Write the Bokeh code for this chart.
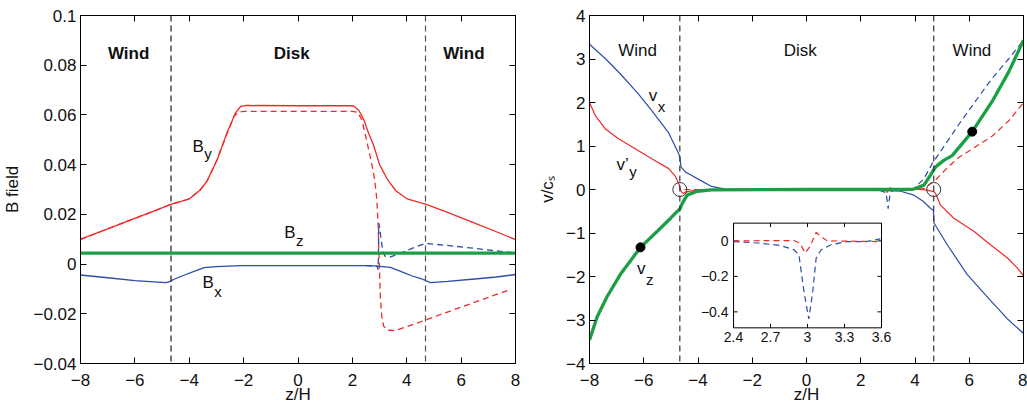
from bokeh.plotting import figure
from bokeh.layouts import row
from bokeh.models import Range1d, LinearAxis, FixedTicker, Span, CustomJSTickFormatter
from bokeh.core.properties import value
from bokeh.embed import file_html
from bokeh.resources import INLINE

FONT = "Liberation Sans"
RED = "#ee2a2a"
BLUE = "#2c4ca8"
GREEN = "#1a9f45"

# ---------------- shared ----------------
x_ticks = [-8, -6, -4, -2, 0, 2, 4, 6, 8]
x_labels = ["\u22128", "\u22126", "\u22124", "\u22122", "0", "2", "4", "6", "8"]
boundaries = [-4.67, 4.69]
region_names = ["Wind", "Disk", "Wind"]
region_z = [-6.23, -0.23, 6.10]

# ---------------- left panel: B field ----------------
b_yticks = [-0.04, -0.02, 0, 0.02, 0.04, 0.06, 0.08, 0.1]
b_ylabels = ["\u22120.04", "\u22120.02", "0", "0.02", "0.04", "0.06", "0.08", "0.1"]

z_by = [-8.0, -7.0, -6.0, -5.0, -4.69, -4.3, -4.0, -3.6, -3.34, -2.97, -2.61, -2.3, -2.11, -1.9,
        0.0, 1.9, 2.05, 2.24, 2.42, 2.6, 2.79, 3.0, 3.28, 3.6, 4.02, 4.4, 4.69, 5.5, 6.5, 7.3, 8.0]
by_solid = [0.0100, 0.0142, 0.0184, 0.0226, 0.0240, 0.0252, 0.0262, 0.0298, 0.0335, 0.0421, 0.0528,
            0.0608, 0.0634, 0.0638, 0.0637, 0.0637, 0.0636, 0.0618, 0.0581, 0.0525, 0.0475, 0.0400,
            0.0342, 0.0295, 0.0262, 0.0250, 0.0241, 0.0208, 0.0165, 0.0130, 0.0098]

z_by_d = [-8.0, -7.0, -6.0, -5.0, -4.69, -4.3, -4.0, -3.6, -3.34, -2.97, -2.61, -2.35, -2.2, -2.0,
          0.0, 2.0, 2.2, 2.35, 2.54, 2.7, 2.82, 2.9, 2.95, 2.99, 3.03, 3.08, 3.15, 3.3, 3.55, 4.0,
          4.69, 6.0, 7.0, 7.78]
by_dash = [0.0098, 0.0142, 0.0184, 0.0226, 0.0239, 0.0252, 0.0262, 0.0298, 0.0335, 0.0421, 0.0525,
           0.0595, 0.0610, 0.0614, 0.0614, 0.0614, 0.0610, 0.0580, 0.0490, 0.0410, 0.0340, 0.0260,
           0.0150, 0.0000, -0.0137, -0.0210, -0.0250, -0.0265, -0.0268, -0.0252, -0.0225, -0.0173,
           -0.0134, -0.0104]

z_bx = [-8.0, -7.0, -6.0, -5.3, -4.85, -4.69, -4.6, -4.2, -3.8, -3.45, -3.0, -2.1, 0.0, 2.5, 2.8,
        3.1, 3.4, 3.8, 4.2, 4.55, 4.69, 4.87, 5.5, 6.5, 7.3, 8.0]
bx_solid = [-0.0044, -0.0055, -0.0067, -0.0072, -0.0075, -0.0070, -0.0063, -0.0045, -0.0028, -0.0014,
            -0.0010, -0.0006, -0.0006, -0.0006, -0.0007, -0.0010, -0.0013, -0.0030, -0.0048, -0.0060,
            -0.0066, -0.0075, -0.0070, -0.0060, -0.0052, -0.0042]

z_bx_d = [2.5, 2.9, 2.95, 2.97, 3.0, 3.05, 3.12, 3.2, 3.35, 3.8, 4.3, 4.69, 5.5, 6.5, 7.3, 8.0]
bx_dash = [-0.0006, -0.0008, -0.0022, 0.0165, 0.0150, 0.0105, 0.0050, 0.0032, 0.0027, 0.0045, 0.0068,
           0.0083, 0.0075, 0.0063, 0.0053, 0.0045]

z_bz = [-8.0, 8.0]
bz = [0.0044, 0.0044]

# ---------------- right panel: velocities ----------------
v_yticks = [-4, -3, -2, -1, 0, 1, 2, 3, 4]
v_ylabels = ["\u22124", "\u22123", "\u22122", "\u22121", "0", "1", "2", "3", "4"]

z_vx = [-8.0, -7.4, -6.85, -6.2, -5.69, -5.08, -4.71, -4.66, -4.63, -4.46, -4.28, -3.91, -3.5, -3.0,
        0.0, 2.73, 3.47, 3.96, 4.3, 4.57, 4.68, 4.70, 5.19, 5.92, 6.78, 7.4, 8.0]
vx_solid = [3.34, 3.00, 2.65, 2.20, 1.80, 1.30, 0.82, 0.72, 0.52, 0.40, 0.34, 0.21, 0.07, 0.01, 0.0,
            -0.015, -0.04, -0.13, -0.27, -0.43, -0.48, -0.77, -1.27, -1.95, -2.55, -2.97, -3.31]

z_vx_d = [2.7, 2.93, 2.98, 3.01, 3.04, 3.08, 3.15, 3.3, 3.6, 3.96, 4.33, 4.63, 5.0, 5.62, 6.23, 6.85,
          7.45, 8.0]
vx_dash = [-0.02, -0.07, -0.28, -0.44, -0.30, -0.09, -0.03, -0.01, 0.0, 0.02, 0.25, 0.59, 0.93, 1.50,
           2.03, 2.56, 3.00, 3.43]

z_vy = [-8.0, -7.78, -7.41, -6.92, -6.3, -5.69, -5.08, -4.83, -4.70, -4.62, -4.55, -4.46, -4.16,
        -3.8, 0.0, 4.2, 4.45, 4.69, 4.76, 4.94, 5.43, 6.17, 6.78, 7.40, 7.77, 8.0]
vy_solid = [2.0, 1.69, 1.39, 1.16, 0.93, 0.70, 0.48, 0.30, 0.12, -0.05, -0.09, -0.06, -0.02, 0.0, 0.0,
            0.0, -0.015, -0.05, -0.09, -0.36, -0.66, -0.96, -1.27, -1.57, -1.80, -1.98]

z_vy_d = [-4.5, 2.7, 2.94, 2.98, 3.02, 3.07, 3.11, 3.16, 3.5, 4.0, 4.33, 4.76, 5.19, 5.62, 6.23, 6.85,
          7.46, 8.0]
vy_dash = [0.0, 0.0, -0.013, -0.069, -0.032, 0.048, 0.024, 0.0, 0.0, 0.01, 0.02, 0.22, 0.50, 0.74,
           0.98, 1.23, 1.58, 2.0]

z_vz = [-8.0, -7.72, -7.35, -6.86, -6.12, -5.5, -5.01, -4.71, -4.66, -4.58, -4.40, -4.03, -3.5, 0.0,
        3.6, 3.96, 4.33, 4.57, 4.76, 5.06, 5.37, 6.11, 6.85, 7.46, 8.0]
vz_solid = [-3.46, -2.93, -2.46, -1.95, -1.33, -0.96, -0.66, -0.47, -0.44, -0.32, -0.13, -0.04, -0.01,
            0.0, 0.0, 0.01, 0.10, 0.33, 0.52, 0.67, 0.78, 1.33, 2.03, 2.71, 3.43]

dot_z = [-6.12, 6.11]
dot_v = [-1.33, 1.33]
sonic_z = [-4.67, 4.69]
sonic_v = [0.0, 0.0]

# ---------------- inset ----------------
inset_xticks = [2.4, 2.7, 3.0, 3.3, 3.6]
inset_xlabels = ["2.4", "2.7", "3", "3.3", "3.6"]
inset_yticks = [-0.4, -0.2, 0.0]
inset_ylabels = ["\u22120.4", "\u22120.2", "0"]
inset_z_vx = [2.4, 2.6, 2.78, 2.89, 2.93, 2.97, 3.01, 3.04, 3.07, 3.11, 3.19, 3.32, 3.48, 3.59]
inset_vx = [-0.004, -0.012, -0.026, -0.05, -0.078, -0.28, -0.44, -0.30, -0.097, -0.05, -0.022, -0.004,
            -0.004, 0.011]
inset_z_vy = [2.4, 2.89, 2.94, 2.98, 3.02, 3.07, 3.11, 3.16, 3.59]
inset_vy = [0.0, 0.002, -0.013, -0.069, -0.032, 0.048, 0.024, 0.0, -0.004]


def hidden_axis(ticks):
    return LinearAxis(ticker=FixedTicker(ticks=ticks),
                      formatter=CustomJSTickFormatter(code="return ''"),
                      major_label_text_font_size="0px", major_label_standoff=0,
                      major_tick_in=6, major_tick_out=0, minor_tick_line_color=None,
                      axis_line_color="black", major_tick_line_color="black")


def style(p, yt, yl, ylabel, ylabel_standoff):
    p.grid.visible = False
    p.outline_line_color = "black"
    p.background_fill_color = "white"
    p.border_fill_color = "white"
    xa, ya = p.xaxis[0], p.yaxis[0]
    xa.ticker = FixedTicker(ticks=x_ticks)
    xa.major_label_overrides = dict(zip(x_ticks, x_labels))
    ya.ticker = FixedTicker(ticks=yt)
    ya.major_label_overrides = dict(zip(yt, yl))
    xa.axis_label = "z/H"
    ya.axis_label = ylabel
    for ax in (xa, ya):
        ax.major_tick_in = 6
        ax.major_tick_out = 0
        ax.minor_tick_line_color = None
        ax.axis_line_color = "black"
        ax.major_tick_line_color = "black"
        ax.major_label_text_font = FONT
        ax.major_label_text_font_size = "17px"
        ax.major_label_text_color = "#111111"
        ax.axis_label_text_font = FONT
        ax.axis_label_text_font_size = "17px"
        ax.axis_label_text_font_style = "normal"
        ax.axis_label_text_color = "#111111"
    ya.major_label_standoff = 4
    xa.major_label_standoff = 10
    xa.axis_label_standoff = -4
    ya.axis_label_standoff = ylabel_standoff
    p.add_layout(hidden_axis(x_ticks), "above")
    p.add_layout(hidden_axis(yt), "right")


def sub_label(p, x, y, main, sub, dy):
    p.text(x=[x], y=[y], text=[main], text_font=value(FONT), text_font_size="17px",
           text_align="right", text_baseline="middle", text_color="#111111")
    p.text(x=[x], y=[y], text=[sub], text_font=value(FONT), text_font_size="15px",
           text_align="left", text_baseline="middle", y_offset=dy, x_offset=0.5,
           text_color="#111111")


# ---------------- left figure ----------------
p1 = figure(width=524, height=406, x_range=Range1d(-8, 8), y_range=Range1d(-0.04, 0.1),
            output_backend="svg", toolbar_location=None,
            min_border_left=80, min_border_right=9, min_border_top=15, min_border_bottom=40)
style(p1, b_yticks, b_ylabels, "B field", 8)

for b, c in zip(boundaries, ["#1a1a1a", "#555555"]):
    p1.add_layout(Span(location=b, dimension="height", line_color=c, line_dash="6 4", line_width=1.2))

p1.line(z_by, by_solid, line_color=RED, line_width=1.3)
p1.line(z_by_d, by_dash, line_color=RED, line_width=1.3, line_dash="6 4")
p1.line(z_bx, bx_solid, line_color=BLUE, line_width=1.3)
p1.line(z_bx_d, bx_dash, line_color=BLUE, line_width=1.3, line_dash="6 4")
p1.line(z_bz, bz, line_color=GREEN, line_width=3.3)

p1.text(x=region_z, y=[0.0846] * 3, text=region_names, text_font=value(FONT), text_font_size="17px",
        text_font_style="bold", text_align="center", text_baseline="middle", text_color="#111111")
sub_label(p1, -3.465, 0.0473, "B", "y", 7)
sub_label(p1, -0.093, 0.0128, "B", "z", 8)
sub_label(p1, -3.10, -0.0074, "B", "x", 9)

# ---------------- right figure ----------------
p2 = figure(width=503, height=406, x_range=Range1d(-8, 8), y_range=Range1d(-4, 4),
            output_backend="svg", toolbar_location=None,
            min_border_left=65, min_border_right=4, min_border_top=15, min_border_bottom=40)
style(p2, v_yticks, v_ylabels, "v/c\u209b", 6)

for b in boundaries:
    p2.add_layout(Span(location=b, dimension="height", line_color="#333333", line_dash="6 4", line_width=1.2))

p2.line(z_vx, vx_solid, line_color=BLUE, line_width=1.2)
p2.line(z_vy, vy_solid, line_color=RED, line_width=1.2)
p2.line(z_vx_d, vx_dash, line_color=BLUE, line_width=1.2, line_dash="6 4")
p2.line(z_vy_d, vy_dash, line_color=RED, line_width=1.2, line_dash="6 4")
p2.line(z_vz, vz_solid, line_color=GREEN, line_width=3.3)
p2.scatter(dot_z, dot_v, size=9, color="black")
p2.scatter(sonic_z, sonic_v, size=14, fill_color=None, line_color="#333333", line_width=1)

p2.text(x=region_z, y=[3.20] * 3, text=region_names, text_font=value(FONT), text_font_size="17px",
        text_align="center", text_baseline="middle", text_color="#111111")
sub_label(p2, -5.50, 2.164, "v", "x", 11)
sub_label(p2, -6.55, 0.573, "v\u2019", "y", 7)
sub_label(p2, -5.94, -1.814, "v", "z", 11)

# ---------------- inset ----------------
ix0, ix1, iy0, iy1 = 2.4, 3.6, -0.49, 0.1
sub = p2.subplot(x_source=Range1d(ix0, ix1), y_source=Range1d(iy0, iy1),
                 x_target=Range1d(-2.69, 2.765), y_target=Range1d(-3.18, -0.773))
sub.quad(left=[ix0], right=[ix1], bottom=[iy0], top=[iy1], fill_color="white",
         line_color="black", line_width=1)
tx = 1.2 * 4 / 148
ty = 0.59 * 4 / 106
sub.segment(x0=inset_xticks, y0=[iy0] * 5, x1=inset_xticks, y1=[iy0 + ty] * 5, line_color="black")
sub.segment(x0=inset_xticks, y0=[iy1] * 5, x1=inset_xticks, y1=[iy1 - ty] * 5, line_color="black")
sub.segment(x0=[ix0] * 3, y0=inset_yticks, x1=[ix0 + tx] * 3, y1=inset_yticks, line_color="black")
sub.segment(x0=[ix1] * 3, y0=inset_yticks, x1=[ix1 - tx] * 3, y1=inset_yticks, line_color="black")
sub.line(inset_z_vx, inset_vx, line_color=BLUE, line_width=1.2, line_dash="6 4")
sub.line(inset_z_vy, inset_vy, line_color=RED, line_width=1.2, line_dash="6 4")
sub.text(x=inset_xticks, y=[iy0] * 5, text=inset_xlabels, text_font=value(FONT), text_font_size="14px",
         text_align="center", text_baseline="top", y_offset=4, text_color="#111111")
sub.text(x=[ix0] * 3, y=inset_yticks, text=inset_ylabels, text_font=value(FONT), text_font_size="14px",
         text_align="right", text_baseline="middle", x_offset=-5, text_color="#111111")

layout = row(p1, p2)
open("out.html", "w").write(file_html(layout, INLINE))
